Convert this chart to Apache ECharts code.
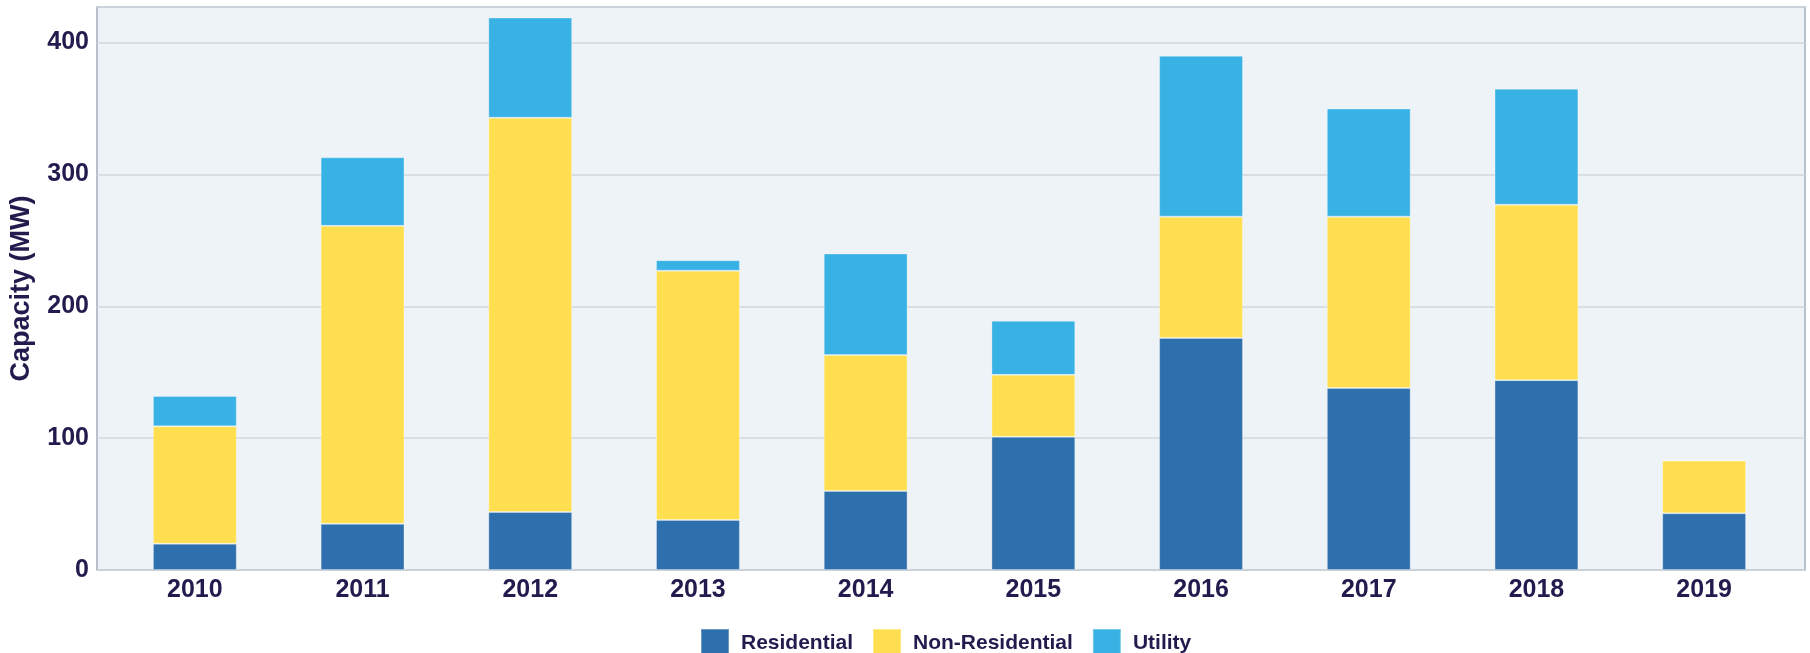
<!DOCTYPE html>
<html>
<head>
<meta charset="utf-8">
<script src="https://cdn.jsdelivr.net/npm/echarts@6/dist/echarts.min.js"></script>
<style>
  html, body { margin: 0; padding: 0; background: #fff; }
  #chart { width: 1810px; height: 653px; }
</style>
</head>
<body>
<div id="chart"></div>
<script>
  // installed capacity by year (MW)
  const years = ['2010', '2011', '2012', '2013', '2014', '2015', '2016', '2017', '2018', '2019'];
  const residential = [20, 35, 44, 38, 60, 101, 176, 138, 144, 43];
  const nonResidential = [89, 226, 299, 189, 103, 47, 92, 130, 133, 40];
  const utility = [23, 52, 76, 8, 77, 41, 122, 82, 88, 0];

  const textColor = '#221c4e';
  const font = 'Liberation Sans, Arial, sans-serif';
  const yMax = 427;

  const chart = echarts.init(document.getElementById('chart'));

  function barSeries(name, data, color) {
    return {
      name: name,
      type: 'bar',
      stack: 'total',
      xAxisIndex: 1,
      yAxisIndex: 1,
      barWidth: '50%',
      data: data,
      itemStyle: {
        color: color,
        borderColor: 'rgba(255,255,255,0.3)',
        borderWidth: 1
      }
    };
  }

  chart.setOption({
    animation: false,
    textStyle: { fontFamily: font },
    color: ['#2e70ad', '#ffdf4f', '#38b2e5'],

    legend: {
      data: ['Residential', 'Non-Residential', 'Utility'],
      left: 695,
      top: 623,
      icon: 'rect',
      itemWidth: 28,
      itemHeight: 28,
      itemGap: 19,
      textStyle: {
        color: textColor,
        fontSize: 21,
        fontWeight: 'bold',
        fontFamily: font,
        padding: [0, 0, 0, 7]
      }
    },

    grid: [{
      left: 95,
      right: 5,
      top: 7,
      bottom: 83,
      show: true,
      backgroundColor: '#eef3f7',
      borderColor: '#a3adba',
      borderWidth: 1.5
    }, {
      left: 111,
      right: 22,
      top: 7,
      bottom: 83
    }],

    xAxis: [{
      gridIndex: 0,
      type: 'value',
      show: false
    }, {
      gridIndex: 1,
      type: 'category',
      data: years,
      axisLine: { show: false },
      axisTick: { show: false },
      axisLabel: {
        color: textColor,
        fontSize: 25,
        fontWeight: 'bold',
        fontFamily: font,
        margin: 8
      }
    }],

    yAxis: [{
      gridIndex: 0,
      type: 'value',
      min: 0,
      max: yMax,
      interval: 100,
      name: 'Capacity (MW)',
      nameLocation: 'middle',
      nameGap: 62,
      nameTextStyle: {
        color: textColor,
        fontSize: 27,
        fontWeight: 'bold',
        fontFamily: font
      },
      axisLine: { show: false },
      axisTick: { show: false },
      axisLabel: {
        color: textColor,
        fontSize: 25,
        fontWeight: 'bold',
        fontFamily: font,
        margin: 8,
        showMaxLabel: false
      },
      splitLine: {
        lineStyle: { color: '#d2d7dd', width: 1.5 }
      }
    }, {
      gridIndex: 1,
      type: 'value',
      min: 0,
      max: yMax,
      show: false
    }],

    series: [
      barSeries('Residential', residential, '#2e70ad'),
      barSeries('Non-Residential', nonResidential, '#ffdf4f'),
      barSeries('Utility', utility, '#38b2e5')
    ]
  });
</script>
</body>
</html>
